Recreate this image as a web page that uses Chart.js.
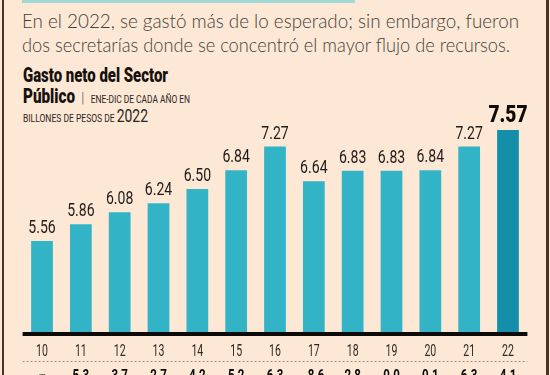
<!DOCTYPE html>
<html>
<head>
<meta charset="utf-8">
<script src="https://cdn.jsdelivr.net/npm/chart.js@4.4.0/dist/chart.umd.min.js"></script>
<style>
  html, body { margin: 0; padding: 0; }
  body { width: 550px; height: 375px; background: #fde7d5; position: relative; overflow: hidden; }
  #borde-izq { position: absolute; left: 2px; top: 0; width: 2px; height: 375px; background: #4a3326; }
  #borde-der { position: absolute; left: 546px; top: 0; width: 3px; height: 375px; background: #4a3326; }
  #franja { position: absolute; left: 22px; top: 0; width: 333px; height: 3px; background: #9fd8d6; }
  .txt { position: absolute; white-space: nowrap; transform-origin: 0 0; color: #3a3530; }
  .sub { font-family: Lato, sans-serif; font-weight: 300; font-size: 19px; line-height: 19px; left: 22px; color: #443f3a; }
  .tit { font-family: Roboto, sans-serif; font-weight: 900; font-size: 20px; line-height: 19px; left: 23px; color: #15120f; }
  .peq { font-family: Roboto, sans-serif; font-size: 11px; font-weight: 400; color: #2a2624; }
  .grande { font-size: 18px; }
  canvas { position: absolute; left: 0; top: 0; }
</style>
</head>
<body>
<div id="franja"></div>
<div id="borde-izq"></div>
<div id="borde-der"></div>

<div class="txt sub" style="top:11px" data-w="497">En el 2022, se gastó más de lo esperado; sin embargo, fueron</div>
<div class="txt sub" style="top:35px" data-w="488">dos secretarías donde se concentró el mayor flujo de recursos.</div>

<div class="txt tit" style="top:66px" data-w="145">Gasto neto del Sector</div>
<div class="txt tit" style="top:87px" data-w="167">Público <span class="peq" style="font-size:15px;font-weight:300">&nbsp;|&nbsp;</span> <span class="peq">ENE-DIC DE CADA AÑO EN</span></div>
<div class="txt tit" style="top:106px;font-weight:400" data-w="125"><span class="peq">BILLONES DE PESOS DE </span><span class="peq grande">2022</span></div>

<canvas id="grafica" width="550" height="375"></canvas>

<script>
// años (eje x), gasto neto en billones de pesos de 2022, variación % anual
const anios = ['10', '11', '12', '13', '14', '15', '16', '17', '18', '19', '20', '21', '22'];
const gasto = [5.56, 5.86, 6.08, 6.24, 6.50, 6.84, 7.27, 6.64, 6.83, 6.83, 6.84, 7.27, 7.57];
const etiquetas = ['5.56', '5.86', '6.08', '6.24', '6.50', '6.84', '7.27', '6.64', '6.83', '6.83', '6.84', '7.27', '7.57'];
const variacion = ['–', '5.3', '3.7', '2.7', '4.2', '5.2', '6.3', '-8.6', '2.8', '0.0', '0.1', '6.3', '4.1'];

const colorBarra = '#33b4c6';
const colorUltima = '#148fa9';

// ajusta el ancho de los textos del encabezado (letra condensada)
document.querySelectorAll('[data-w]').forEach(el => {
  const w = el.getBoundingClientRect().width;
  el.style.transform = 'scaleX(' + (parseFloat(el.dataset.w) / w) + ')';
});

// texto condensado en el canvas
function textoCondensado(ctx, texto, x, y, font, escala, color, baseline) {
  ctx.save();
  ctx.font = font;
  ctx.fillStyle = color;
  ctx.textAlign = 'center';
  ctx.textBaseline = baseline || 'alphabetic';
  ctx.translate(x, y);
  ctx.scale(escala, 1);
  ctx.fillText(texto, 0, 0);
  ctx.restore();
}

const extras = {
  id: 'extras',
  afterDatasetsDraw(chart) {
    const ctx = chart.ctx;
    const area = chart.chartArea;
    const x = chart.scales.x;
    const y = chart.scales.y;

    // línea base
    ctx.save();
    ctx.fillStyle = '#0d0b0a';
    ctx.fillRect(area.left, area.bottom, area.right - area.left, 4);

    // línea punteada
    ctx.strokeStyle = '#9a9089';
    ctx.lineWidth = 1;
    ctx.setLineDash([2, 2]);
    ctx.beginPath();
    ctx.moveTo(area.left, 361.5);
    ctx.lineTo(area.right, 361.5);
    ctx.stroke();
    ctx.restore();

    gasto.forEach((v, i) => {
      const px = x.getPixelForValue(i);
      const py = y.getPixelForValue(v);
      if (i === gasto.length - 1) {
        textoCondensado(ctx, etiquetas[i], px, py - 8, '900 24px Roboto', 0.8, '#0d0b0a');
      } else {
        textoCondensado(ctx, etiquetas[i], px, py - 8, '400 18.5px Roboto', 0.76, '#1f1b19');
      }
      textoCondensado(ctx, anios[i], px, 356, '400 16.5px Roboto', 0.64, '#2e2a27');
      textoCondensado(ctx, variacion[i], px, 369, '700 16px Roboto', 0.72, i === 0 ? '#6b635d' : '#0d0b0a', 'top');
    });
  }
};

new Chart(document.getElementById('grafica'), {
  type: 'bar',
  data: {
    labels: anios,
    datasets: [{
      data: gasto,
      backgroundColor: gasto.map((v, i) => i === gasto.length - 1 ? colorUltima : colorBarra),
      borderWidth: 0,
      barPercentage: 0.56,
      categoryPercentage: 1
    }]
  },
  options: {
    responsive: false,
    animation: false,
    layout: { padding: { left: 22.6, right: 22.6, top: 106.2, bottom: 43 } },
    plugins: { legend: { display: false }, tooltip: { enabled: false } },
    scales: {
      x: { display: false },
      y: { display: false, min: 3.91, max: 8.0 }
    }
  },
  plugins: [extras]
});
</script>
</body>
</html>
